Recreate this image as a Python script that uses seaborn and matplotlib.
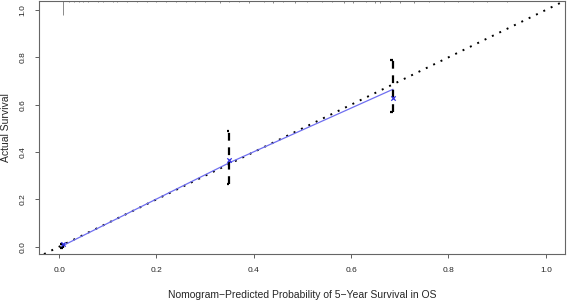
import matplotlib
matplotlib.use("Agg")
import matplotlib.pyplot as plt
import seaborn as sns
import pandas as pd

# calibration points (predicted vs observed)
pred = [0.008, 0.35, 0.686]
apparent = [0.005, 0.355, 0.665]
observed = [0.011, 0.366, 0.627]
ci_low = [-0.004, 0.265, 0.568]
ci_high = [0.012, 0.488, 0.788]

# spike histogram of predictions along the top
rug_x = [0.008, 0.02, 0.03, 0.04, 0.05, 0.06, 0.08, 0.09, 0.11, 0.12, 0.14, 0.16,
         0.18, 0.2, 0.22, 0.24, 0.26, 0.28, 0.3, 0.33, 0.35, 0.37, 0.39, 0.42,
         0.44, 0.46, 0.485, 0.51, 0.54, 0.56, 0.585, 0.604, 0.63, 0.65, 0.66,
         0.68, 0.70, 0.73, 0.76, 0.79, 0.82, 0.85, 0.88, 0.92]
rug_h = [0.06, 0.005, 0.004, 0.004, 0.004, 0.004, 0.004, 0.004, 0.003, 0.003,
         0.003, 0.003, 0.003, 0.003, 0.003, 0.003, 0.003, 0.003, 0.003, 0.006,
         0.003, 0.003, 0.006, 0.003, 0.006, 0.003, 0.006, 0.003, 0.003, 0.003,
         0.007, 0.006, 0.003, 0.006, 0.006, 0.003, 0.006, 0.006, 0.003, 0.003,
         0.003, 0.003, 0.003, 0.003]

df = pd.DataFrame({"pred": pred, "apparent": apparent, "observed": observed})

sns.set_style("white")
plt.rcParams["font.family"] = ["Liberation Sans", "DejaVu Sans"]

fig = plt.figure(figsize=(5.67, 3.0), dpi=100)
ax = fig.add_axes([0.069, 0.153, 0.928, 0.843])

# ideal line
ax.axline((0, 0), slope=1, color="black", lw=1.4, linestyle=(0, (1, 3.2)))

# apparent calibration curve
sns.lineplot(data=df, x="pred", y="apparent", color="#6f6ff0", lw=0.9, ax=ax)

# confidence bars
ax.vlines(pred, ci_low, ci_high, color="black", lw=1.6, linestyles=(0, (3.5, 3)))
cap = 0.006
ax.hlines(ci_high, [p - cap for p in pred], pred, color="black", lw=1.6)
ax.hlines(ci_low, [p - cap for p in pred], pred, color="black", lw=1.6)

# bias-corrected points
sns.scatterplot(data=df, x="pred", y="observed", marker="x", color="#3030e0",
                s=10, linewidth=0.9, ax=ax, zorder=5)

# spikes at the top
ax.vlines(rug_x, [1.037 - h for h in rug_h], 1.037, color="#777777", lw=0.6)

ax.set_xlim(-0.041, 1.04)
ax.set_ylim(-0.031, 1.037)
ax.set_xticks([0, 0.2, 0.4, 0.6, 0.8, 1.0])
ax.set_yticks([0, 0.2, 0.4, 0.6, 0.8, 1.0])
ax.set_xticklabels(["0.0", "0.2", "0.4", "0.6", "0.8", "1.0"])
ax.set_yticklabels(["0.0", "0.2", "0.4", "0.6", "0.8", "1.0"], rotation=90, va="center")
ax.tick_params(axis="both", direction="out", length=3, width=0.6, color="#444444",
               labelsize=6, pad=6, bottom=True, left=True)

for s in ax.spines.values():
    s.set_color("#666666")
    s.set_linewidth(0.8)

ax.set_xlabel("Nomogram\u2212Predicted Probability of 5\u2212Year Survival in OS",
              fontsize=7.5, labelpad=12)
ax.set_ylabel("Actual Survival", fontsize=7.5, labelpad=6)

fig.savefig("out.png", dpi=100)
